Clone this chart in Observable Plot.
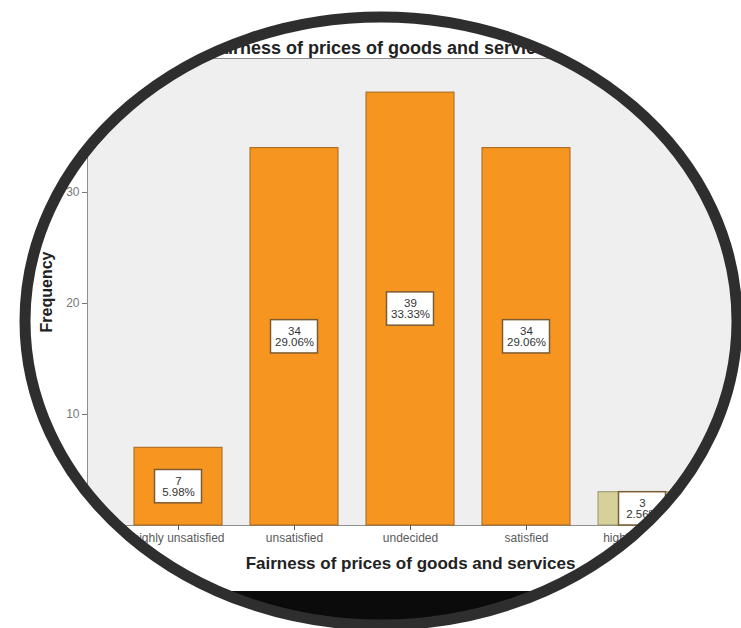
<!DOCTYPE html>
<html>
<head>
<meta charset="utf-8">
<script src="https://cdn.jsdelivr.net/npm/d3@7"></script>
<script src="https://cdn.jsdelivr.net/npm/@observablehq/plot@0.6"></script>
<style>
  body { margin: 0; background: #fff; }
</style>
</head>
<body>
<div id="chart"></div>
<script>
// Survey answers: how fair are the prices of goods and services?
const categories = ["highly unsatisfied", "unsatisfied", "undecided", "satisfied", "highly satisfied"];
const counts = [7, 34, 39, 34, 3];
const barFills = ["#f6951f", "#f6951f", "#f6951f", "#f6951f", "#d6d09a"];
const barStrokes = ["#a5651f", "#a5651f", "#a5651f", "#a5651f", "#9a9670"];
const yTicks = [0, 10, 20, 30, 40];
const chartTitle = "Fairness of prices of goods and services";
const xTitle = "Fairness of prices of goods and services";
const yTitle = "Frequency";

const total = d3.sum(counts);
const rows = categories.map((category, i) => ({
  category,
  count: counts[i],
  pct: (counts[i] / total * 100).toFixed(2) + "%",
  fill: barFills[i],
  stroke: barStrokes[i]
}));

const W = 741, H = 628;
const font = "'Liberation Sans', Arial, sans-serif";

const chart = Plot.plot({
  width: W,
  height: H,
  marginLeft: 87,
  marginRight: 0,
  marginTop: 58,
  marginBottom: 103,
  style: { fontFamily: font, background: "#fff", overflow: "visible" },
  x: { domain: categories, range: [118.2, 700.7], paddingInner: 0.245, paddingOuter: 0.1225 },
  y: { domain: [0, 42.07] },
  marks: [
    Plot.frame({ fill: "#efefef", stroke: "#8f8f8f" }),
    Plot.barY(rows, { x: "category", y: "count", fill: d => d.fill, stroke: d => d.stroke, strokeWidth: 1 }),
    // count / percent boxes at half the bar height
    Plot.barY(rows, {
      x: "category",
      y1: d => d.count / 2 - 1.5,
      y2: d => d.count / 2 + 1.5,
      insetLeft: 20.5, insetRight: 20.5,
      fill: "#ffffff", stroke: "#7d5c34", strokeWidth: 1.5
    }),
    Plot.text(rows, {
      x: "category",
      y: d => d.count / 2,
      text: d => `${d.count}\n${d.pct}`,
      fontSize: 11.5, lineHeight: 1.0, fill: "#333"
    }),
    Plot.axisY({ ticks: yTicks, tickSize: 5, tickPadding: 3, fontSize: 12, color: "#777", label: null }),
    Plot.axisX({ tickSize: 5, tickPadding: 3, fontSize: 12, color: "#5a5a5a", label: null }),
    Plot.text([chartTitle], { text: d => d, frameAnchor: "top", textAnchor: "middle", dx: -33, dy: -17, fontSize: 18, fontWeight: "bold", fill: "#222" }),
    Plot.text([xTitle], { text: d => d, frameAnchor: "bottom", textAnchor: "middle", dx: -4, dy: 43, fontSize: 17, fontWeight: "bold", fill: "#222" }),
    Plot.text([yTitle], { text: d => d, frameAnchor: "left", textAnchor: "middle", rotate: -90, dx: -41, fontSize: 16, fontWeight: "bold", fill: "#222" })
  ]
});

// Oval lens: everything is clipped to an ellipse with a dark rim
const svg = d3.select(chart);
const lens = { cx: 381, cy: 321, rx: 356, ry: 304 };
svg.insert("defs", ":first-child")
  .append("clipPath").attr("id", "lens")
  .append("ellipse")
  .attr("cx", lens.cx).attr("cy", lens.cy).attr("rx", lens.rx).attr("ry", lens.ry);

const kids = Array.from(chart.childNodes).filter(n => n.nodeName !== "defs" && n.nodeName !== "style");
const inner = svg.append("g").attr("clip-path", "url(#lens)");
kids.forEach(n => inner.node().appendChild(n));

// dark strip along the bottom of the lens
inner.append("rect")
  .attr("x", 0).attr("y", 591).attr("width", W).attr("height", H - 591)
  .attr("fill", "#0b0b0b");

svg.append("ellipse")
  .attr("cx", lens.cx).attr("cy", lens.cy).attr("rx", lens.rx).attr("ry", lens.ry)
  .attr("fill", "none").attr("stroke", "#2e2e2e").attr("stroke-width", 11);

document.getElementById("chart").appendChild(chart);
</script>
</body>
</html>
